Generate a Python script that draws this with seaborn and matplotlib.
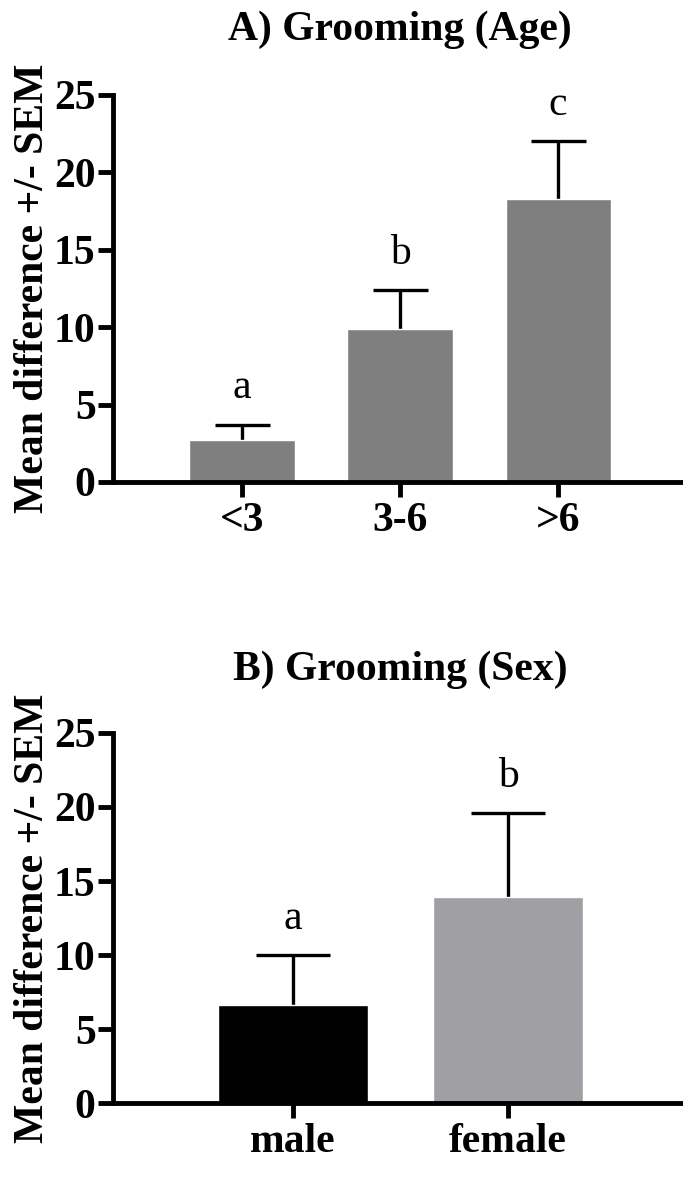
import numpy as np
import matplotlib
matplotlib.use("Agg")
import matplotlib.pyplot as plt
import seaborn as sns

# values
age_groups = ["<3", "3-6", ">6"]
age_means = [2.7, 9.9, 18.3]
age_sem = [1.0, 2.5, 3.7]
age_letters = ["a", "b", "c"]

sex_groups = ["male", "female"]
sex_means = [6.6, 13.9]
sex_sem = [3.4, 5.7]
sex_letters = ["a", "b"]
sex_colors = ["#000000", "#a0a0a4"]

sns.set_style("ticks")
plt.rcParams["font.family"] = ["Liberation Serif", "DejaVu Serif"]
plt.rcParams["font.weight"] = "bold"
for k in ["text.color", "axes.edgecolor", "axes.labelcolor",
          "xtick.color", "ytick.color"]:
    plt.rcParams[k] = "black"

fig = plt.figure(figsize=(6.83, 11.83), dpi=100)
ax1 = fig.add_axes([0.1654, 0.5926, 0.8346, 0.3271])
ax2 = fig.add_axes([0.1654, 0.0676, 0.8346, 0.3128])


def style_axis(ax, groups, means, sem, letters, capsize, xlim):
    n = len(groups)
    # symmetric bars drawn behind the columns, so only the upper half shows
    ax.errorbar(range(n), means, yerr=sem, fmt="none",
                ecolor="black", elinewidth=2.4, capsize=capsize, capthick=2.4,
                zorder=1)
    for i, (m, s, t) in enumerate(zip(means, sem, letters)):
        ax.annotate(t, (i, m + s), xytext=(0, 19), textcoords="offset points",
                    ha="center", va="baseline", fontsize=30,
                    fontweight="normal")
    ax.set_ylim(0, 25)
    ax.set_yticks([0, 5, 10, 15, 20, 25])
    ax.set_xlim(*xlim)
    sns.despine(ax=ax)
    for s in ["left", "bottom"]:
        ax.spines[s].set_linewidth(3.5)
    ax.tick_params(axis="both", length=11, width=3.5, labelsize=30)
    ax.tick_params(axis="y", pad=1.5)
    ax.tick_params(axis="x", pad=3.5)
    ax.set_xlabel("")
    ax.set_ylabel("Mean difference +/- SEM", fontsize=30, fontweight="bold")
    ax.yaxis.set_label_coords(-0.107, 0.5)


sns.barplot(x=age_groups, y=age_means, color="#7f7f7f", saturation=1,
            width=0.665, ax=ax1, zorder=2)
style_axis(ax1, age_groups, age_means, age_sem, age_letters, 19.8,
           (-0.816, 2.79))

sns.barplot(x=sex_groups, y=sex_means, hue=sex_groups, palette=sex_colors,
            saturation=1, width=0.70, legend=False, ax=ax2, zorder=2)
style_axis(ax2, sex_groups, sex_means, sex_sem, sex_letters, 26.3,
           (-0.837, 1.814))

fig.text(0.5857, 0.9662, "A) Grooming (Age)", ha="center", va="baseline",
         fontsize=30, fontweight="bold")
fig.text(0.5857, 0.4252, "B) Grooming (Sex)", ha="center", va="baseline",
         fontsize=30, fontweight="bold")

fig.savefig("out.png", dpi=100)
